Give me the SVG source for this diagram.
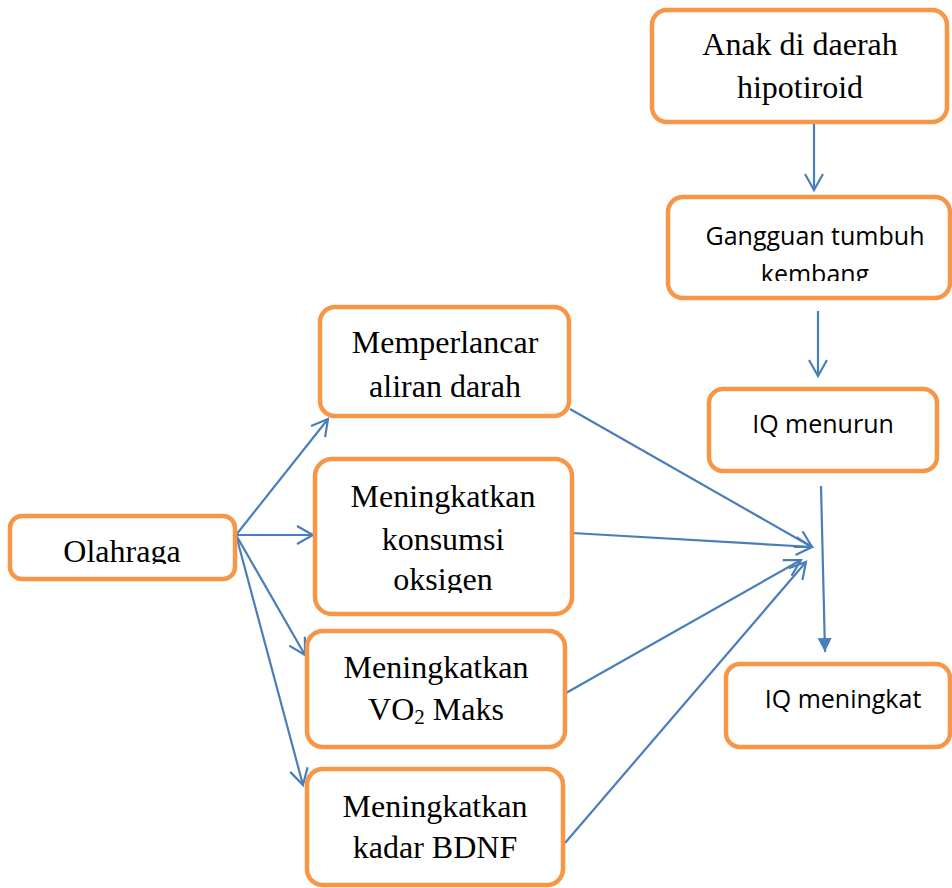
<svg xmlns="http://www.w3.org/2000/svg" width="952" height="888" viewBox="0 0 952 888">
<style>
.box{fill:#fff;stroke:#F79646;stroke-width:4.5}
.ser{font-family:"Liberation Serif","Times New Roman",serif;font-size:32px;fill:#000;text-anchor:middle}
.san{font-family:"Open Sans","Liberation Sans",sans-serif;font-size:25px;fill:#000;text-anchor:middle}
.ln{stroke:#4A7EBB;stroke-width:2.2;fill:none}
</style>
<defs>
<marker id="open" markerUnits="userSpaceOnUse" markerWidth="22" markerHeight="22" refX="17" refY="10" orient="auto">
<path d="M1,1 L17,10 L1,19" fill="none" stroke="#4A7EBB" stroke-width="2.2"/>
</marker>
<marker id="fill" markerUnits="userSpaceOnUse" markerWidth="16" markerHeight="16" refX="14" refY="7" orient="auto">
<path d="M0,0 L14,7 L0,14 z" fill="#4A7EBB"/>
</marker>
<clipPath id="cGang"><rect x="660" y="190" width="292" height="91"/></clipPath>
<clipPath id="cKons"><rect x="310" y="450" width="270" height="143"/></clipPath>
<clipPath id="cOla"><rect x="5" y="510" width="235" height="54"/></clipPath>
</defs>
<g id="connectors">
<line class="ln" x1="814" y1="124" x2="814" y2="190" marker-end="url(#open)"/>
<line class="ln" x1="818" y1="311" x2="818" y2="376" marker-end="url(#open)"/>
<line class="ln" x1="821" y1="486" x2="825" y2="652" marker-end="url(#fill)"/>
<line class="ln" x1="236" y1="535" x2="328" y2="419" marker-end="url(#open)"/>
<line class="ln" x1="236" y1="535" x2="313" y2="535" marker-end="url(#open)"/>
<line class="ln" x1="236" y1="535" x2="305" y2="655" marker-end="url(#open)"/>
<line class="ln" x1="236" y1="535" x2="303" y2="785" marker-end="url(#open)"/>
<line class="ln" x1="570" y1="409" x2="812" y2="547" marker-end="url(#open)"/>
<line class="ln" x1="572" y1="533" x2="812" y2="547" marker-end="url(#open)"/>
<line class="ln" x1="566" y1="693" x2="801" y2="560" marker-end="url(#open)"/>
<line class="ln" x1="565" y1="843" x2="806" y2="562" marker-end="url(#open)"/>
</g>
<g id="anak">
<rect class="box" x="652" y="10" width="295" height="112" rx="15"/>
<text class="ser" x="800" y="55">Anak di daerah</text>
<text class="ser" x="800" y="98">hipotiroid</text>
</g>
<g id="gangguan">
<rect class="box" x="668" y="197" width="282" height="101" rx="15"/>
<g clip-path="url(#cGang)">
<text class="san" x="815" y="245">Gangguan tumbuh</text>
<text class="san" x="815" y="283">kembang</text>
</g>
</g>
<g id="iqmenurun">
<rect class="box" x="709" y="389" width="228" height="82" rx="14"/>
<text class="san" x="823" y="433">IQ menurun</text>
</g>
<g id="iqmeningkat">
<rect class="box" x="726" y="664" width="224" height="83" rx="14"/>
<text class="san" x="843" y="708">IQ meningkat</text>
</g>
<g id="memperlancar">
<rect class="box" x="320" y="307" width="249" height="109" rx="15"/>
<text class="ser" x="445" y="353">Memperlancar</text>
<text class="ser" x="445" y="397">aliran darah</text>
</g>
<g id="konsumsi">
<rect class="box" x="315" y="459" width="257" height="155" rx="17"/>
<g clip-path="url(#cKons)">
<text class="ser" x="443" y="507">Meningkatkan</text>
<text class="ser" x="443" y="550">konsumsi</text>
<text class="ser" x="443" y="590">oksigen</text>
</g>
</g>
<g id="olahraga">
<rect class="box" x="10" y="516" width="225" height="63" rx="12"/>
<g clip-path="url(#cOla)">
<text class="ser" x="122" y="562">Olahraga</text>
</g>
</g>
<g id="vo2">
<rect class="box" x="307" y="631" width="258" height="116" rx="16"/>
<text class="ser" x="436" y="678">Meningkatkan</text>
<text class="ser" x="436" y="720">VO<tspan font-size="21" dy="4">2</tspan><tspan dy="-4"> Maks</tspan></text>
</g>
<g id="bdnf">
<rect class="box" x="307" y="769" width="256" height="116" rx="16"/>
<text class="ser" x="435" y="817">Meningkatkan</text>
<text class="ser" x="435" y="858">kadar BDNF</text>
</g>
</svg>
